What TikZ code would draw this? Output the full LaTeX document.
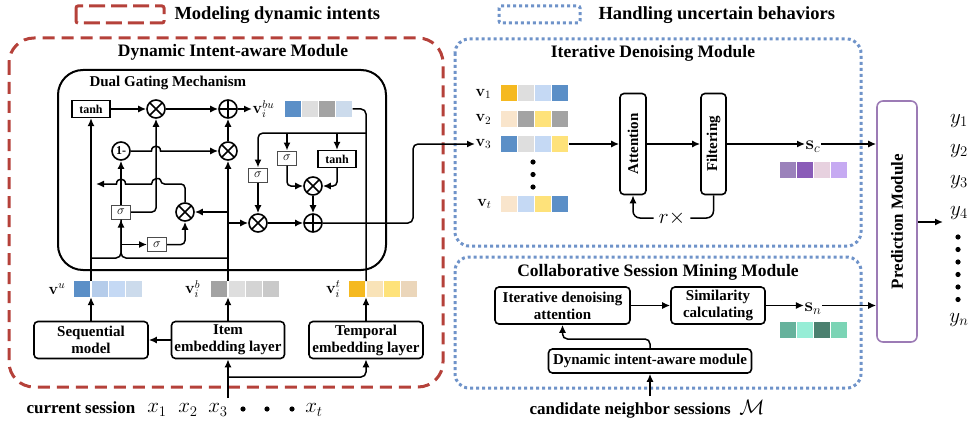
\RequirePackage{fix-cm}
\documentclass[tikz,border=0pt]{standalone}
\usepackage[no-math]{fontspec}
\setmainfont{Liberation Serif}
\usetikzlibrary{arrows.meta,positioning}

\definecolor{redline}{HTML}{B5413A}
\definecolor{blueline}{HTML}{6F93C9}
\definecolor{predline}{HTML}{9C7BB5}
\definecolor{cblue}{HTML}{5B8FC7}
\definecolor{cblueA}{HTML}{B5CCEA}
\definecolor{cblueB}{HTML}{C5D9F4}
\definecolor{cblueC}{HTML}{CCDBEC}
\definecolor{cgreyD}{HTML}{A3A3A3}
\definecolor{cgreyL}{HTML}{DEDEDE}
\definecolor{cgreyM}{HTML}{D4D4D4}
\definecolor{cgreyN}{HTML}{C9C9C9}
\definecolor{cyel}{HTML}{F5B920}
\definecolor{cyelA}{HTML}{F9E3B8}
\definecolor{cyelB}{HTML}{FEE27A}
\definecolor{ctan}{HTML}{EBD6BA}
\definecolor{cpeach}{HTML}{F9E5CC}
\definecolor{cpurA}{HTML}{9B82BB}
\definecolor{cpurB}{HTML}{8A5CB8}
\definecolor{cpurC}{HTML}{E7D1DF}
\definecolor{cpurD}{HTML}{C6AAF2}
\definecolor{cgrnA}{HTML}{66B29C}
\definecolor{cgrnB}{HTML}{97EDD6}
\definecolor{cgrnC}{HTML}{4B806F}
\definecolor{cgrnD}{HTML}{7BD4B5}

\begin{document}
\begin{tikzpicture}[x=1pt,y=-1pt,
    box/.style={rectangle,draw,rounded corners=4pt,line width=1.6pt,align=center,inner sep=1pt,font=\fontsize{15}{17}\selectfont\bfseries},
    gatebox/.style={rectangle,draw,line width=1.2pt,minimum width=38pt,minimum height=17pt,inner sep=0pt,font=\fontsize{12}{12}\selectfont\bfseries},
    sigbox/.style={rectangle,draw=black!70,line width=1pt,minimum width=19pt,minimum height=14pt,inner sep=0pt,font=\fontsize{13}{13}\selectfont},
    mul/.style={circle,draw,line width=1.6pt,minimum size=18pt,inner sep=0pt,
        path picture={\draw[line width=1.6pt] (path picture bounding box.north west) -- (path picture bounding box.south east)
                       (path picture bounding box.north east) -- (path picture bounding box.south west);}},
    add/.style={circle,draw,line width=1.6pt,minimum size=18pt,inner sep=0pt,
        path picture={\draw[line width=1.6pt] (path picture bounding box.north) -- (path picture bounding box.south)
                       (path picture bounding box.west) -- (path picture bounding box.east);}},
    cell/.style={rectangle,minimum size=16pt,inner sep=0pt},
    vlab/.style={inner sep=0.5pt,font=\fontsize{16}{16}\selectfont},
    bigmath/.style={inner sep=1pt,font=\fontsize{21}{21}\selectfont},
    title/.style={font=\fontsize{17.5}{20}\selectfont\bfseries},
    legend/.style={font=\fontsize{18.5}{20}\selectfont\bfseries},
    reddash/.style={draw=redline,line width=3pt,dash pattern=on 12pt off 7pt},
    bluedot/.style={draw=blueline,line width=3pt,dash pattern=on 3pt off 3pt},
    wire/.style={line width=1.5pt},
    arrow/.style={-{Latex[length=8pt,width=7pt]},line width=1.5pt},
    bold arrow/.style={-{Latex[length=8pt,width=7pt]},line width=2.5pt}
]
\useasboundingbox (0,0) rectangle (971,425);

% legend
\draw[reddash,dash pattern=on 16pt off 6pt,rounded corners=2pt] (76,6) rectangle (164,23);
\node[legend,anchor=west] (lgred) at (171,15) {Modeling dynamic intents};
\draw[bluedot,rounded corners=2pt] (499,6) rectangle (580,23);
\node[legend,anchor=west] (lgblue) at (595,15) {Handling uncertain behaviors};

% frames
\draw[reddash,rounded corners=25pt] (9,38) rectangle (443,387);
\node[title] (dimtitle) at (233,52) {Dynamic Intent-aware Module};
\draw[line width=2pt,rounded corners=25pt] (58,70) rectangle (386,270);
\node[anchor=west,font=\fontsize{15}{15}\selectfont\bfseries] (dgtitle) at (86,83) {Dual Gating Mechanism};
\draw[bluedot,rounded corners=14pt] (455,39) rectangle (861,246);
\node[title] (idmtitle) at (653,53) {Iterative Denoising Module};
\draw[bluedot,rounded corners=14pt] (455,257) rectangle (861,388);
\node[title] (csmtitle) at (658,272) {Collaborative Session Mining Module};

% embedding part
\node[box,minimum width=114pt,minimum height=37pt] (seq) at (91,340) {Sequential\\model};
\node[box,minimum width=113pt,minimum height=37pt] (item) at (228,340) {Item\\embedding layer};
\node[box,minimum width=114pt,minimum height=37pt] (temp) at (366,340) {Temporal\\embedding layer};

\foreach \c [count=\i] in {cblue,cblueA,cblueB,cblueC}
  \node[cell,fill=\c] (vu\i) at ({82.3+17.3*(\i-1)},289) {};
\foreach \c [count=\i] in {cgreyD,cgreyL,cgreyM,cgreyN}
  \node[cell,fill=\c] (vb\i) at ({219.3+17.3*(\i-1)},289) {};
\foreach \c [count=\i] in {cyel,cyelA,cyelB,ctan}
  \node[cell,fill=\c] (vt\i) at ({357.3+17.3*(\i-1)},289) {};
\node[vlab,anchor=east] (lvu) at (66,289) {$\mathbf{v}^{u}$};
\node[vlab,anchor=east] (lvb) at (201,289) {$\mathbf{v}_i^{b}$};
\node[vlab,anchor=east] (lvt) at (341,289) {$\mathbf{v}_i^{t}$};

\coordinate (ju) at (91,281);
\coordinate (jb) at (228,281);
\coordinate (jt) at (366,281);
\coordinate (jl) at (121,258);
\coordinate (jr) at (366,133);
\coordinate (jo) at (413,223);
\coordinate (fb) at (96,184);
\coordinate (xin) at (228,398);
\coordinate (jx) at (228,377);

\draw[arrow] (seq.north) -- (seq.north |- vu1.south);
\draw[arrow] (item.north) -- (item.north |- vb1.south);
\draw[arrow] (temp.north) -- (temp.north |- vt1.south);
\draw[bold arrow] (item.west) -- (seq.east);
\draw[bold arrow] (xin) -- (item.south);
\draw[arrow,rounded corners=5pt] (jx) -| (temp.south);

% gating: left half
\node[gatebox] (tanhA) at (91,109) {tanh};
\node[mul] (mulA) at (156,109) {};
\node[add] (addA) at (228,109) {};
\node[circle,draw,line width=1.6pt,minimum size=18pt,inner sep=0pt,font=\fontsize{12}{12}\selectfont\bfseries] (onem) at (121,151) {1-};
\node[mul] (mulB) at (228,151) {};
\node[sigbox] (sigA) at (121,212) {$\sigma$};
\node[mul] (mulC) at (185,212) {};
\node[sigbox] (sigB) at (157,244.5) {$\sigma$};

\draw[arrow] (ju) -- (tanhA.south);
\draw[arrow] (tanhA) -- (mulA);
\draw[arrow] (mulA) -- (addA);
\draw[arrow] (mulB) -- (addA);
\draw[bold arrow] (jb) -- (mulB.south);
\draw[arrow] (jb |- mulC) -- (mulC.east);
\draw[wire,rounded corners=5pt] (ju |- jl) -| (sigA.south);
\draw[arrow,rounded corners=5pt] (jb |- jl) -| (sigA.south);
\draw[arrow] (sigA.south |- sigB) -- (sigB.west);
\draw[arrow,rounded corners=4pt] (sigB.east) -| (mulC.south);
\draw[arrow,rounded corners=4pt] (sigA.east) -| (mulA.south);
\draw[bold arrow] (sigA) -- (onem);
\draw[arrow] (onem.east) -- (151.5,151) .. controls (151.5,144.5) and (160.5,144.5) .. (160.5,151) -- (mulB.west);
\draw[arrow] (mulC.north) [rounded corners=4pt] |- (160.5,184) [sharp corners]
  .. controls (160.5,177.5) and (151.5,177.5) .. (151.5,184) -- (125.5,184)
  .. controls (125.5,177.5) and (116.5,177.5) .. (116.5,184) -- (fb);

% gating: right half
\node[vlab,anchor=west] (lvbu) at (252,109) {$\mathbf{v}_i^{bu}$};
\foreach \c [count=\i] in {cblue,cgreyL,cgreyD,cblueC}
  \node[cell,fill=\c] (vbu\i) at ({292.5+17.3*(\i-1)},109) {};
\draw[arrow] (addA) -- (lvbu.west);
\node[sigbox] (sigC) at (258,175) {$\sigma$};
\node[sigbox] (sigD) at (287,158) {$\sigma$};
\node[gatebox] (tanhB) at (337,159) {tanh};
\node[mul] (mulD) at (313,186) {};
\node[mul] (mulE) at (258,223) {};
\node[add] (addB) at (313,223) {};

\draw[wire,rounded corners=5pt] (vbu4.east) -| (jt);
\draw[arrow,rounded corners=5pt] (jr) -| (sigC.north);
\draw[arrow] (sigD.north |- jr) -- (sigD.north);
\draw[arrow] (tanhB.north |- jr) -- (tanhB.north);
\draw[arrow,rounded corners=4pt] (sigD.south) |- (mulD.west);
\draw[arrow,rounded corners=4pt] (tanhB.south) |- (mulD.east);
\draw[bold arrow] (sigC) -- (mulE);
\draw[arrow] (jb |- mulE) -- (mulE.west);
\draw[bold arrow] (mulE) -- (addB);
\draw[arrow] (mulD) -- (addB);

% current session
\node[anchor=west,font=\fontsize{17}{17}\selectfont\bfseries] (cur) at (23,408) {current session};
\node[bigmath] (x1) at (157,410) {$x_1$};
\node[bigmath] (x2) at (188,410) {$x_2$};
\node[bigmath] (x3) at (218,410) {$x_3$};
\node[bigmath] (xt) at (314,410) {$x_t$};
\foreach \d in {243,267,292}
  \fill (\d,409) circle[radius=2.6pt];

% iterative denoising
\node[vlab,anchor=east] (lv1) at (492,94) {$\mathbf{v}_1$};
\node[vlab,anchor=east] (lv2) at (492,119.5) {$\mathbf{v}_2$};
\node[vlab,anchor=east] (lv3) at (492,144) {$\mathbf{v}_3$};
\node[vlab,anchor=east] (lvt) at (492,204) {$\mathbf{v}_t$};
\foreach \c [count=\i] in {cyel,cgreyL,cblueB,cblue}
  \node[cell,fill=\c] (da\i) at ({508.5+17.3*(\i-1)},93) {};
\foreach \c [count=\i] in {cpeach,cgreyD,cyelB,cgreyD}
  \node[cell,fill=\c] (db\i) at ({508.5+17.3*(\i-1)},119.5) {};
\foreach \c [count=\i] in {cblue,cgreyL,cblueB,cyelB}
  \node[cell,fill=\c] (dc\i) at ({508.5+17.3*(\i-1)},144) {};
\foreach \c [count=\i] in {cpeach,cblueB,cyelB,cblue}
  \node[cell,fill=\c] (dt\i) at ({508.5+17.3*(\i-1)},204) {};
\foreach \d in {162,174.5,187}
  \fill (533,\d) circle[radius=2.6pt];

\draw[arrow,rounded corners=5pt] (addB.east) -- (jo) |- (lv3.west);

\node[box,minimum width=26pt,minimum height=101pt] (att) at (633,144) {\rotatebox{90}{Attention}};
\node[box,minimum width=25pt,minimum height=101pt] (filt) at (713.5,144) {\rotatebox{90}{Filtering}};
\node[bigmath,inner sep=5pt] (rx) at (672,218) {$r\times$};
\draw[arrow] (dc4.east) -- (att.west |- dc4);
\draw[bold arrow] (att) -- (filt);
\draw[wire,rounded corners=7pt] (filt.south) |- (rx.east);
\draw[arrow,rounded corners=7pt] (rx.west) -| (att.south);

\node[vlab,font=\fontsize{19}{19}\selectfont] (lsc) at (813,147) {$\mathbf{s}_c$};
\foreach \c [count=\i] in {cpurA,cpurB,cpurC,cpurD}
  \node[cell,fill=\c] (sc\i) at ({787.5+17.3*(\i-1)},169.5) {};

% collaborative session mining
\node[box,minimum width=135pt,minimum height=37pt] (ida) at (562.5,305.5) {Iterative denoising\\attention};
\node[box,minimum width=94pt,minimum height=37pt] (sim) at (718,305.5) {Similarity\\calculating};
\node[box,minimum width=203pt,minimum height=24pt] (dyn) at (650,361) {Dynamic intent-aware module};
\coordinate (jd) at (650,339);
\coordinate (cin) at (650,396);
\draw[arrow] (ida) -- (sim);
\draw[arrow,rounded corners=5pt] (dyn.north) -- (jd) -| (ida.south);
\draw[arrow] (cin) -- (dyn.south);
\node[font=\fontsize{17}{17}\selectfont\bfseries] (cand) at (647,409) {candidate neighbor sessions~~\fontsize{21}{21}\selectfont$\mathcal{M}$};

\node[vlab,font=\fontsize{19}{19}\selectfont] (lsn) at (813,309) {$\mathbf{s}_n$};
\foreach \c [count=\i] in {cgrnA,cgrnB,cgrnC,cgrnD}
  \node[cell,fill=\c] (sn\i) at ({787.5+17.3*(\i-1)},329.5) {};

% prediction
\node[box,draw=predline,rounded corners=6pt,minimum width=40pt,minimum height=241pt,font=\fontsize{17}{17}\selectfont\bfseries] (pred) at (897,221.5) {\rotatebox{90}{Prediction Module}};
\draw[arrow] (filt) -- (filt -| lsc.west);
\draw[arrow] (lsc.east |- filt) -- (filt -| pred.west);
\draw[arrow] (sim) -- (sim -| lsn.west);
\draw[arrow] (lsn.east |- sim) -- (sim -| pred.west);

\coordinate (yout) at (943,222);
\draw[arrow] (pred.east |- yout) -- (yout);
\node[bigmath] (y1) at (959,121) {$y_1$};
\node[bigmath] (y2) at (959,151) {$y_2$};
\node[bigmath] (y3) at (959,182) {$y_3$};
\node[bigmath] (y4) at (959,213) {$y_4$};
\node[bigmath] (yn) at (959,320) {$y_n$};
\foreach \d in {237,249.5,262,274.5,287,299.5}
  \fill (958,\d) circle[radius=2.6pt];
\end{tikzpicture}
\end{document}
